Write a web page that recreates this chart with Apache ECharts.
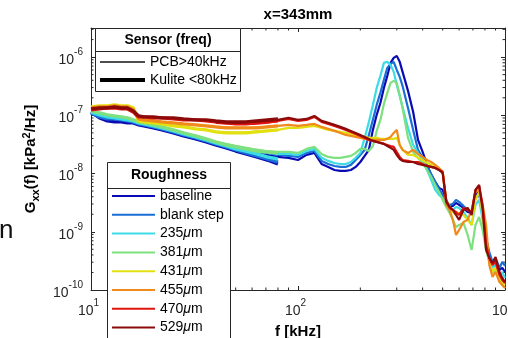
<!DOCTYPE html>
<html>
<head>
<meta charset="utf-8">
<title>x=343mm</title>
<script src="https://cdn.jsdelivr.net/npm/echarts@6/dist/echarts.min.js"></script>
<style>
html, body { margin: 0; padding: 0; background: #fff; }
#chart { width: 508px; height: 338px; }
</style>
</head>
<body>
<div id="chart"></div>
<script>
// frequency axis [kHz]
let freqKulite = [10, 11, 12, 13, 14, 15, 16, 17, 18, 20, 22, 25, 28, 32, 36, 40, 45, 50, 56, 63, 71, 80];
let freqPcb = [40, 50, 60, 70, 80, 90, 100, 110, 120, 130, 140, 150, 160, 170, 180, 190, 200, 210, 220, 230,
    240, 250, 260, 270, 280, 290, 300, 310, 320, 340, 360, 380, 400, 420, 440, 460, 480, 500, 520, 540,
    560, 580, 600, 630, 660, 690, 720, 750, 780, 810, 840, 870, 900, 940, 970, 1000];

// Gxx, in 1e-9 kPa^2/Hz
let kuliteBaseline = [114, 90.3, 80.2, 77.1, 77.1, 74.1, 74.1, 68.5, 65.8, 60.8, 56.2, 49.9, 44.3, 39.4, 35.0, 31.0, 27.6, 24.4, 21.7, 19.3, 17.1, 14.6];
let kuliteBlank = [110, 93.9, 86.8, 86.8, 83.5, 80.2, 77.1, 71.2, 68.5, 63.3, 58.5, 51.9, 46.1, 41.0, 36.4, 32.3, 28.7, 25.5, 22.6, 20.1, 17.8, 15.8];
let kulite235 = [114, 102, 93.9, 90.3, 86.8, 83.5, 80.2, 74.1, 71.2, 65.8, 60.8, 54.0, 48.0, 42.6, 37.8, 33.6, 29.8, 26.5, 24.4, 21.7, 19.3, 17.8];
let kulite381 = [119, 110, 102, 97.7, 93.9, 90.3, 83.5, 77.1, 74.1, 68.5, 63.3, 56.2, 49.9, 44.3, 39.4, 35.0, 31.0, 28.7, 26.5, 24.4, 23.5, 22.6];
let kulite431 = [139, 145, 145, 151, 145, 145, 134, 80.2, 77.1, 74.1, 71.2, 65.8, 63.3, 58.5, 56.2, 51.9, 49.9, 49.9, 49.9, 51.9, 54.0, 56.2];
let kulite455 = [134, 139, 139, 145, 139, 139, 124, 86.8, 83.5, 80.2, 77.1, 74.1, 71.2, 68.5, 65.8, 63.3, 60.8, 60.8, 60.8, 60.8, 63.3, 65.8];
let kulite470 = [124, 129, 134, 134, 129, 129, 114, 93.9, 93.9, 90.3, 90.3, 86.8, 83.5, 83.5, 80.2, 77.1, 74.1, 71.2, 71.2, 74.1, 77.1, 80.2];
let kulite529 = [129, 134, 134, 139, 134, 134, 119, 97.7, 93.9, 93.9, 90.3, 90.3, 86.8, 83.5, 83.5, 80.2, 77.1, 77.1, 77.1, 80.2, 83.5, 86.8];

let pcbBaseline = [31.0, 25.5, 22.6, 20.9, 19.3, 18.6, 17.1, 20.9, 22.6, 14.6, 13.0, 11.5, 11.1, 11.1, 11.5, 13.0, 15.8, 20.1, 25.5, 56.2,
    102, 163, 296, 476, 797, 971, 1050, 829, 558, 263, 114, 37.8, 23.5, 14.1, 9.47, 7.2, 5.67, 5.24, 3.53, 2.67,
    2.78, 3.13, 2.89, 2.57, 2.19, 2.11, 4.30, 4.84, 1.94, 0.724, 0.400, 0.269, 0.328, 0.221, 0.239, 0.204];
let pcbBlank = [32.3, 27.6, 24.4, 22.6, 20.9, 20.1, 19.3, 22.6, 24.4, 16.5, 14.6, 13.5, 13.0, 13.0, 14.1, 17.1, 20.9, 25.5, 46.1, 83.5,
    151, 243, 406, 654, 766, 829, 604, 458, 320, 134, 56.2, 25.5, 18.6, 13.5, 9.8, 7.2, 5.45, 4.30, 3.13, 2.89,
    3.01, 3.53, 3.26, 2.78, 2.37, 2.19, 3.82, 4.30, 2.19, 0.784, 0.450, 0.303, 0.355, 0.239, 0.303, 0.259];
let pcb235 = [33.6, 28.7, 25.5, 23.5, 21.7, 21.7, 20.9, 24.4, 26.5, 18.6, 16.5, 15.2, 14.6, 14.6, 15.8, 18.6, 22.6, 41.0, 77.1, 151,
    296, 476, 797, 829, 736, 558, 333, 215, 139, 60.8, 31.0, 22.6, 17.1, 11.5, 7.79, 5.24, 4.30, 3.82, 2.89, 2.57,
    2.37, 2.67, 2.57, 2.19, 1.73, 1.31, 2.89, 3.53, 1.60, 0.594, 0.355, 0.239, 0.269, 0.181, 0.204, 0.161];
let pcb381 = [35.0, 29.8, 26.5, 24.4, 23.5, 23.5, 22.6, 26.5, 28.7, 21.7, 19.3, 18.6, 18.6, 19.3, 20.1, 22.6, 26.5, 26.5, 24.4, 29.8,
    54.0, 83.5, 157, 243, 361, 390, 361, 224, 134, 41.0, 23.5, 18.6, 15.2, 11.5, 8.76, 6.38, 4.84, 3.53, 2.67, 2.11,
    1.60, 1.21, 1.31, 1.42, 0.883, 0.488, 1.31, 1.80, 1.07, 0.488, 0.303, 0.196, 0.221, 0.149, 0.122, 0.108];
let pcb431 = [51.9, 49.9, 51.9, 54.0, 56.2, 60.8, 60.8, 63.3, 65.8, 60.8, 56.2, 54.0, 51.9, 49.9, 48.0, 46.1, 44.3, 42.6, 41.0, 41.0,
    41.0, 39.4, 39.4, 39.4, 39.4, 39.4, 41.0, 31.0, 25.5, 20.9, 20.9, 18.6, 17.1, 15.2, 14.1, 13.0, 12.0, 10.7, 3.53, 2.67,
    2.19, 1.94, 2.11, 1.94, 1.60, 1.31, 3.53, 4.84, 1.94, 0.594, 0.303, 0.204, 0.239, 0.161, 0.137, 0.122];
let pcb455 = [63.3, 60.8, 60.8, 63.3, 65.8, 68.5, 65.8, 68.5, 71.2, 63.3, 58.5, 54.0, 49.9, 46.1, 44.3, 42.6, 41.0, 39.4, 37.8, 37.8,
    37.8, 37.8, 37.8, 39.4, 42.6, 49.9, 56.2, 31.0, 25.5, 22.6, 25.5, 21.7, 19.3, 17.1, 15.8, 14.1, 12.5, 10.7, 2.89, 2.37,
    1.60, 0.883, 1.07, 1.47, 1.60, 2.37, 4.84, 5.24, 2.89, 1.31, 0.269, 0.167, 0.204, 0.137, 0.122, 0.108];
let pcb470 = [74.1, 71.2, 71.2, 74.1, 80.2, 86.8, 80.2, 83.5, 93.9, 77.1, 71.2, 65.8, 60.8, 56.2, 51.9, 48.0, 44.3, 41.0, 37.8, 36.4,
    35.0, 33.6, 32.3, 31.0, 29.8, 28.7, 23.5, 19.3, 17.1, 16.5, 15.8, 15.8, 14.6, 13.5, 13.0, 12.5, 11.5, 10.7, 3.53, 2.57,
    2.37, 2.19, 1.94, 2.57, 2.37, 2.19, 5.24, 6.13, 2.89, 0.594, 0.355, 0.269, 0.303, 0.181, 0.149, 0.132];
let pcb529 = [77.1, 74.1, 77.1, 80.2, 83.5, 90.3, 83.5, 86.8, 97.7, 80.2, 74.1, 68.5, 63.3, 58.5, 54.0, 49.9, 46.1, 42.6, 39.4, 36.4,
    35.0, 33.6, 32.3, 29.8, 27.6, 25.5, 20.9, 17.8, 16.5, 15.8, 15.8, 14.6, 14.1, 13.5, 13.0, 12.5, 11.5, 10.2, 3.26, 2.67,
    2.37, 1.94, 1.60, 2.37, 2.57, 1.94, 5.24, 6.38, 2.37, 0.488, 0.355, 0.291, 0.370, 0.204, 0.161, 0.137];

let roughness = ['baseline', 'blank step', '235μm', '381μm', '431μm', '455μm', '470μm', '529μm'];
let colors = ['#0a0ab4', '#1a6ed6', '#3cdce6', '#7ee07e', '#e2e010', '#f08a1a', '#e0140f', '#8c0a0a'];
let kulite = [kuliteBaseline, kuliteBlank, kulite235, kulite381, kulite431, kulite455, kulite470, kulite529];
let pcb = [pcbBaseline, pcbBlank, pcb235, pcb381, pcb431, pcb455, pcb470, pcb529];

let sensors = ['PCB>40kHz', 'Kulite <80kHz'];

// axis range and minor ticks
let X_MIN = 10, X_MAX = 1000;
let Y_MIN = 1e-10, Y_MAX = Math.pow(10, -5.5);
let minorMult = [2, 3, 4, 5, 6, 7, 8, 9];
let xDecades = [10, 100];
let yDecades = [1e-10, 1e-9, 1e-8, 1e-7, 1e-6];

let FONT = 'Liberation Sans';
let AXIS_COLOR = '#262626';

function curve(name, freq, vals, color, width) {
    return {
        name: name,
        type: 'line',
        symbol: 'none',
        silent: true,
        data: freq.map((f, i) => [f, vals[i] * 1e-9]),
        lineStyle: { color: color, width: width },
        itemStyle: { color: color },
        emphasis: { disabled: true }
    };
}

function powLabel(v) {
    let e = Math.log10(v),
        r = Math.round(e);
    if (Math.abs(e - r) > 1e-6) {
        return '';
    }
    return '{b|10}{s|' + r + '}';
}

let labelRich = {
    b: { fontFamily: FONT, fontSize: 14, color: AXIS_COLOR, lineHeight: 20, verticalAlign: 'bottom' },
    s: { fontFamily: FONT, fontSize: 10, color: AXIS_COLOR, lineHeight: 11, verticalAlign: 'top' }
};

// minor ticks on all four sides, placed through the axes
function minorTicks(values, onX) {
    return {
        type: 'custom',
        silent: true,
        z: 3,
        data: values.map(v => onX ? [v, Y_MIN] : [X_MIN, v]),
        renderItem: (params, api) => {
            let v = api.value(onX ? 0 : 1);
            let a = onX ? api.coord([v, Y_MIN]) : api.coord([X_MIN, v]);
            let b = onX ? api.coord([v, Y_MAX]) : api.coord([X_MAX, v]);
            let len = 2.5;
            let segs = onX
                ? [[a[0], a[1], a[0], a[1] - len], [b[0], b[1], b[0], b[1] + len]]
                : [[a[0], a[1], a[0] + len, a[1]], [b[0], b[1], b[0] - len, b[1]]];
            return {
                type: 'group',
                children: segs.map(s => ({
                    type: 'line',
                    shape: { x1: s[0], y1: s[1], x2: s[2], y2: s[3] },
                    style: { stroke: AXIS_COLOR, lineWidth: 1 }
                }))
            };
        }
    };
}

let xMinor = [], yMinor = [];
xDecades.forEach(d => minorMult.forEach(m => xMinor.push(d * m)));
yDecades.forEach(d => minorMult.forEach(m => { if (d * m < Y_MAX) yMinor.push(d * m); }));

let series = [];
roughness.forEach((name, i) => {
    series.push(curve(name, freqKulite, kulite[i], colors[i], 3.4));
    series.push(curve(name, freqPcb, pcb[i], colors[i], 2.2));
});
series.push({ name: sensors[0], type: 'line', data: [], itemStyle: { color: '#4d4d4d' }, lineStyle: { color: '#4d4d4d' } });
series.push({ name: sensors[1], type: 'line', data: [], itemStyle: { color: '#000' }, lineStyle: { color: '#000' } });
series.push(minorTicks(xMinor, true));
series.push(minorTicks(yMinor, false));

function baseAxis(extra) {
    return Object.assign({
        type: 'log',
        logBase: 10,
        axisLine: { show: true, lineStyle: { color: AXIS_COLOR, width: 1 } },
        axisTick: { show: true, inside: true, length: 4, lineStyle: { color: AXIS_COLOR } },
        splitLine: { show: false },
        minorTick: { show: false },
        minorSplitLine: { show: false }
    }, extra);
}

let legendText = {
    fontFamily: FONT,
    fontSize: 14,
    color: '#000',
    lineHeight: 18.8,
    rich: { i: { fontFamily: FONT, fontSize: 14, fontStyle: 'italic', color: '#000', lineHeight: 18.8 } }
};

function legendBox(names, left, top, width, height) {
    return {
        data: names,
        orient: 'vertical',
        left: left,
        top: top,
        padding: 0,
        itemGap: 0,
        itemWidth: width,
        itemHeight: height,
        icon: 'rect',
        itemStyle: { borderWidth: 0 },
        selectedMode: false,
        z: 20,
        textStyle: legendText,
        formatter: n => n.replace('μ', '{i|μ}')
    };
}

let chart = echarts.init(document.getElementById('chart'));
chart.setOption({
    animation: false,
    textStyle: { fontFamily: FONT },
    title: {
        text: 'x=343mm',
        left: 298,
        top: 7,
        padding: 0,
        textAlign: 'center',
        textStyle: { fontFamily: FONT, fontSize: 15, fontWeight: 'bold', color: '#000' }
    },
    grid: { left: 91, right: 3, top: 28, bottom: 48, containLabel: false, outerBoundsMode: 'none' },
    xAxis: [
        baseAxis({
            min: X_MIN, max: X_MAX, position: 'bottom',
            name: 'f [kHz]', nameLocation: 'middle', nameGap: 32,
            nameTextStyle: { fontFamily: FONT, fontSize: 15, fontWeight: 'bold', color: '#000', lineHeight: 18 },
            axisLabel: { formatter: powLabel, margin: 8, padding: [0, 5, 0, 0], showMinLabel: true, showMaxLabel: true, rich: labelRich }
        }),
        baseAxis({ min: X_MIN, max: X_MAX, position: 'top', axisLabel: { show: false } })
    ],
    yAxis: [
        baseAxis({
            min: Y_MIN, max: Y_MAX, position: 'left',
            name: 'G{sub|xx}(f) [kPa{sup|2}/Hz]', nameLocation: 'middle', nameGap: 50, nameRotate: 90,
            nameTextStyle: {
                fontFamily: FONT, fontSize: 15, fontWeight: 'bold', color: '#000', lineHeight: 20,
                rich: {
                    sub: { fontFamily: FONT, fontSize: 11, fontWeight: 'bold', color: '#000', lineHeight: 12, verticalAlign: 'bottom' },
                    sup: { fontFamily: FONT, fontSize: 11, fontWeight: 'bold', color: '#000', lineHeight: 12, verticalAlign: 'top' }
                }
            },
            axisLabel: { formatter: powLabel, margin: 8, showMinLabel: true, showMaxLabel: false, rich: labelRich }
        }),
        baseAxis({ min: Y_MIN, max: Y_MAX, position: 'right', axisLabel: { show: false } })
    ],
    legend: [
        legendBox(roughness, 112, 186.6, 43, 2),
        legendBox([sensors[0]], 100, 52.6, 45, 2),
        legendBox([sensors[1]], 100, 70.6, 45, 4)
    ],
    graphic: [
        { type: 'rect', z: 10, shape: { x: 95.5, y: 28.5, width: 145, height: 63 }, style: { fill: '#fff', stroke: AXIS_COLOR, lineWidth: 1 } },
        { type: 'line', z: 10, shape: { x1: 95.5, y1: 51.5, x2: 240.5, y2: 51.5 }, style: { stroke: AXIS_COLOR, lineWidth: 1 } },
        { type: 'text', z: 11, style: { text: 'Sensor (freq)', x: 168, y: 40, textAlign: 'center', textVerticalAlign: 'middle', font: 'bold 14px "Liberation Sans"', fill: '#000' } },
        { type: 'rect', z: 10, shape: { x: 107.5, y: 162.5, width: 123, height: 190 }, style: { fill: '#fff', stroke: AXIS_COLOR, lineWidth: 1 } },
        { type: 'line', z: 10, shape: { x1: 107.5, y1: 188.5, x2: 230.5, y2: 188.5 }, style: { stroke: AXIS_COLOR, lineWidth: 1 } },
        { type: 'text', z: 11, style: { text: 'Roughness', x: 169, y: 175, textAlign: 'center', textVerticalAlign: 'middle', font: 'bold 14px "Liberation Sans"', fill: '#000' } },
        { type: 'text', z: 11, style: { text: 'n', x: -1, y: 231, textAlign: 'left', textVerticalAlign: 'middle', font: '26px "Liberation Sans"', fill: '#111' } }
    ],
    series: series
});
</script>
</body>
</html>
